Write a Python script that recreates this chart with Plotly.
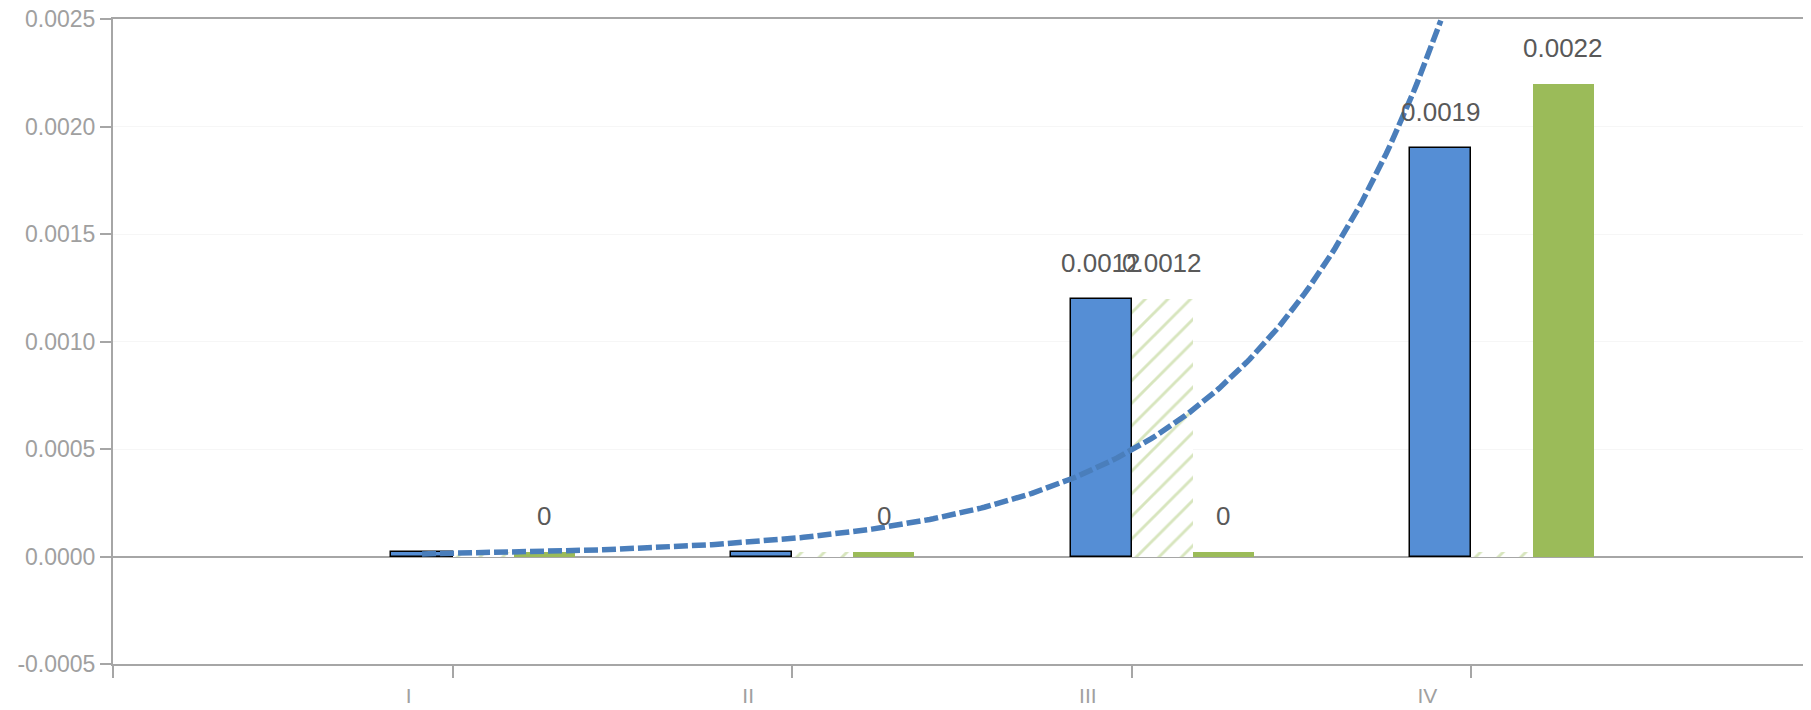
import numpy as np
import plotly.graph_objects as go

# ---- data ----
categories = ["I", "II", "III", "IV"]
series_blue = [0.00002, 0.00002, 0.0012, 0.0019]
series_hatch = [0.00002, 0.00002, 0.0012, 0.00002]
series_green = [0.00002, 0.00002, 0.00002, 0.0022]
labels_blue = ["", "", "0.0012", "0.0019"]
labels_hatch = ["", "", "0.0012", ""]
labels_green = ["0", "0", "0", "0.0022"]
y_ticks = [-0.0005, 0.0, 0.0005, 0.0010, 0.0015, 0.0020, 0.0025]

# ---- style ----
BLUE = "#558ED5"
GREEN = "#9BBB59"
HATCH = "#AFCB7C"
TREND = "#4A7EBB"
AXIS = "#A6A6A6"
TICKTXT = "#A0A0A0"
LABEL = "#595959"
FONT = "Liberation Sans, Arial, sans-serif"
BAR_W = 0.18

idx = list(range(1, len(categories) + 1))

fig = go.Figure()
fig.add_trace(go.Bar(x=idx, y=series_blue, width=BAR_W, offset=-BAR_W,
                     marker=dict(color=BLUE, line=dict(color="#000000", width=1.5)),
                     showlegend=False))
fig.add_trace(go.Bar(x=idx, y=series_hatch, width=BAR_W, offset=0,
                     marker=dict(color="white", line=dict(width=0),
                                 pattern=dict(shape="/", fgcolor=HATCH, bgcolor="white",
                                              size=16, solidity=0.18)),
                     showlegend=False))
fig.add_trace(go.Bar(x=idx, y=series_green, width=BAR_W, offset=BAR_W,
                     marker=dict(color=GREEN, line=dict(width=0)),
                     showlegend=False))

# exponential trendline fitted to the blue series (like a spreadsheet trendline)
b, ln_a = np.polyfit(idx, np.log(series_blue), 1)
xs = np.linspace(idx[0], idx[-1], 300)
ys = np.exp(ln_a + b * xs)
fig.add_trace(go.Scatter(x=xs - BAR_W / 2, y=ys, mode="lines",
                         line=dict(color=TREND, width=5.5, dash="14px,4px"),
                         showlegend=False, hoverinfo="skip"))

# data labels
annotations = []
for vals, labs, off in ((series_blue, labels_blue, -BAR_W / 2),
                        (series_hatch, labels_hatch, BAR_W / 2),
                        (series_green, labels_green, 1.5 * BAR_W)):
    for k, v, t in zip(idx, vals, labs):
        if t:
            annotations.append(dict(x=k + off, y=v, text=t, showarrow=False,
                                    yshift=36, yanchor="middle",
                                    font=dict(family=FONT, size=26, color=LABEL)))

# the page body adds an 8px offset, so the figure is 8px smaller than the window
fig.update_layout(
    width=1803, height=702,
    margin=dict(l=105, r=0, t=10.5, b=46, autoexpand=False),
    paper_bgcolor="white", plot_bgcolor="white",
    bargap=0, barmode="overlay",
    annotations=annotations,
    font=dict(family=FONT),
    xaxis=dict(range=[0, len(categories) + 1], tickmode="array",
               tickvals=[0] + idx, ticktext=[""] + categories,
               ticks="outside", ticklen=12, tickwidth=1.5, tickcolor=AXIS,
               showline=True, linecolor=AXIS, linewidth=2, mirror=True,
               showgrid=False, zeroline=False, ticklabelshift=-44,
               ticklabeloverflow="allow", automargin=False,
               tickfont=dict(family=FONT, size=21, color=TICKTXT)),
    yaxis=dict(range=[y_ticks[0], y_ticks[-1]], tickmode="array",
               tickvals=y_ticks, ticktext=[f"{v:.4f}" for v in y_ticks],
               ticks="outside", ticklen=11, tickwidth=1.5, tickcolor=AXIS,
               showline=True, linecolor=AXIS, linewidth=2,
               showgrid=True, gridcolor="#F6F6F6", gridwidth=1,
               zeroline=True, zerolinecolor=AXIS, zerolinewidth=2,
               ticklabeloverflow="allow", automargin=False,
               tickfont=dict(family=FONT, size=23, color=TICKTXT)),
)

fig.write_html("out.html")
